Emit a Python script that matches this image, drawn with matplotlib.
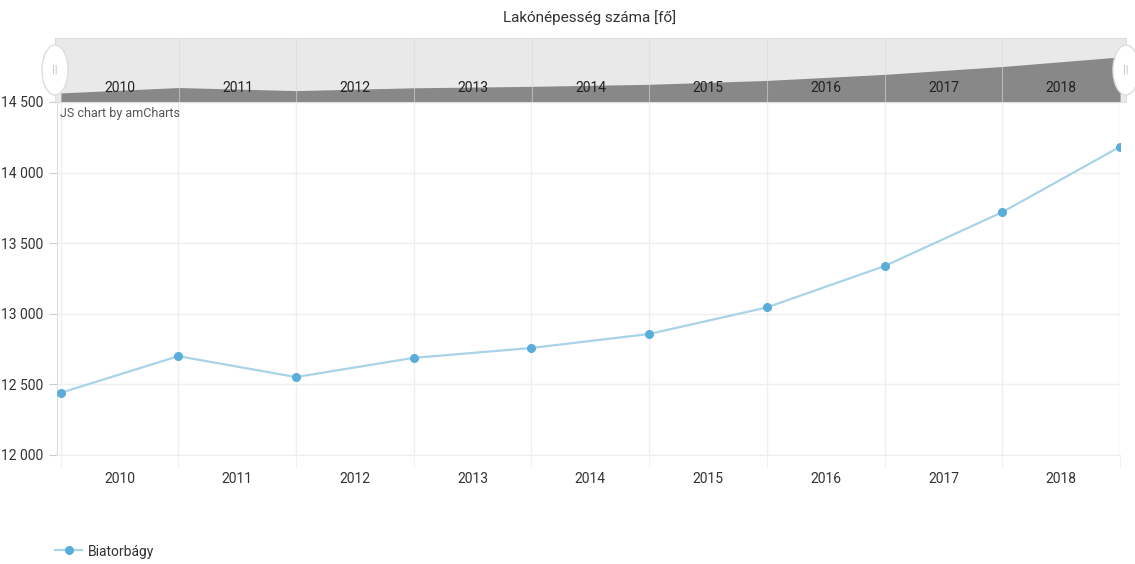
import numpy as np
import matplotlib.pyplot as plt
from matplotlib.patches import Ellipse

plt.rcParams['font.family'] = ['Roboto', 'DejaVu Sans']

years = ['2010', '2011', '2012', '2013', '2014', '2015', '2016', '2017', '2018']
population = [12440, 12700, 12552, 12688, 12758, 12857, 13045, 13338, 13720, 14183]
title = 'Lakónépesség száma [fő]'
series_name = 'Biatorbágy'

line_color = '#a9d3e8'
marker_color = '#5badd9'
text_color = '#333333'
grid_color = '#efefef'

x = np.arange(len(population))

fig = plt.figure(figsize=(11.35, 5.64), dpi=100)

# main plot
ax = fig.add_axes([57 / 1135, 1 - 455 / 564, (1120 - 57) / 1135, 353 / 564])
ax.plot(x, population, color=line_color, lw=1.6, zorder=3)
ax.plot(x, population, 'o', color=marker_color, ms=5.5, zorder=4)
ax.set_xlim(-0.03, 9.0)
ax.set_ylim(12000, 14500)
ax.set_yticks(np.arange(12000, 14501, 500))
ax.set_yticklabels([f'{v:,}'.replace(',', ' ') for v in range(12000, 14501, 500)])
ax.set_xticks(np.arange(len(years)) + 0.5)
ax.set_xticklabels(years)
ax.set_xticks(np.arange(0, 10), minor=True)
ax.tick_params(axis='x', which='major', length=0, pad=12, labelsize=10, colors=text_color)
ax.tick_params(axis='x', which='minor', length=9, color=grid_color)
ax.tick_params(axis='y', length=6, color='#cccccc', labelsize=10, colors=text_color, pad=4)
ax.grid(True, axis='y', color=grid_color, lw=1)
ax.grid(True, axis='x', which='minor', color=grid_color, lw=1)
for s in ['top', 'right']:
    ax.spines[s].set_visible(False)
ax.spines['left'].set_color('#dddddd')
ax.spines['bottom'].set_color('#eeeeee')
ax.text(0.003, 0.985, 'JS chart by amCharts', transform=ax.transAxes, fontsize=9,
        color='#555555', va='top', ha='left')

# scrollbar
sb = fig.add_axes([55 / 1135, 1 - 102 / 564, (1126 - 55) / 1135, 64 / 564])
sb.set_facecolor('#e9e9e9')
xs = (x + 0.03) * (1120 - 57) / (1126 - 55) * (9.03 / 9.03)
sb.fill_between(x, population, 12000, color='#888888', lw=0)
sb.set_xlim(-0.05, 9.05)
sb.set_ylim(12000, 15100)
sb.set_xticks([])
sb.set_yticks([])
for s in sb.spines.values():
    s.set_color('#dddddd')
for i in range(1, 9):
    sb.axvline(i, color='#d8d8d8', lw=0.8, alpha=0.6)
for i, yr in enumerate(years):
    sb.text(i + 0.5, 0.22, yr, transform=sb.get_xaxis_transform(), ha='center',
            va='center', fontsize=10, color='#222222')

# handles
for hx in [55, 1126]:
    fig.patches.append(Ellipse((hx / 1135, 1 - 70 / 564), 26 / 1135, 50 / 564,
                               transform=fig.transFigure, facecolor='white',
                               edgecolor='#dddddd', lw=1, zorder=10))
    fig.text(hx / 1135, 1 - 70 / 564, '||', ha='center', va='center', fontsize=8,
             color='#bbbbbb', zorder=11)

fig.text(590 / 1135, 1 - 18 / 564, title, ha='center', va='center', fontsize=11,
         color=text_color)

# legend
fig.add_artist(plt.Line2D([55 / 1135, 82 / 1135], [1 - 550 / 564, 1 - 550 / 564],
                          color=line_color, lw=1.6, transform=fig.transFigure))
fig.add_artist(plt.Line2D([68.5 / 1135], [1 - 550 / 564], marker='o', ms=5.5,
                          color=marker_color, transform=fig.transFigure))
fig.text(88 / 1135, 1 - 552 / 564, series_name, ha='left', va='center', fontsize=10,
         color=text_color)

fig.savefig('out.png', dpi=100)
